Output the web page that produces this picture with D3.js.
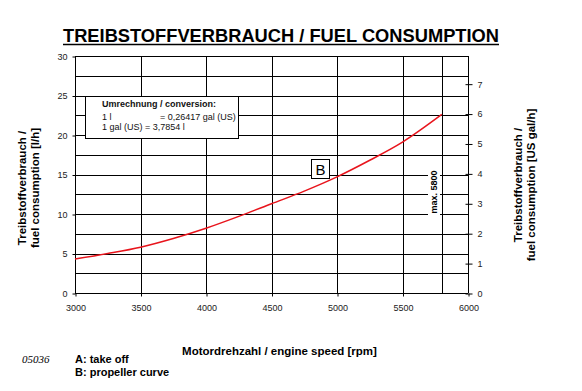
<!DOCTYPE html>
<html>
<head>
<meta charset="utf-8">
<script src="https://cdn.jsdelivr.net/npm/d3@7/dist/d3.min.js"></script>
<style>
  body { margin: 0; background: #fff; }
  svg { font-family: "Liberation Sans", Arial, sans-serif; }
</style>
</head>
<body>
<script>
const rpm = [3000, 3250, 3500, 3750, 4000, 4250, 4500, 4750, 5000, 5250, 5500, 5800];
const fuel = [4.3, 5.0, 5.8, 6.9, 8.2, 9.7, 11.3, 12.9, 14.7, 16.8, 19.1, 22.6];

const xTicks = [3000, 3500, 4000, 4500, 5000, 5500, 6000];
const yTicks = [0, 5, 10, 15, 20, 25, 30];
const yGrid = d3.range(0, 30.01, 2.5);
const galTicks = [0, 1, 2, 3, 4, 5, 6, 7];
const maxRpm = 5800;
const litrePerGal = 3.7854;

const width = 582, height = 391;

const svg = d3.select("body")
  .append("svg")
  .attr("width", width)
  .attr("height", height);

// scales
const x = d3.scaleLinear().domain([3000, 6000]).range([75, 468]);
const y = d3.scaleLinear().domain([0, 30]).range([293, 56]);
const y2 = d3.scaleLinear().domain([0, 30 / litrePerGal]).range([293, 56]);

// title
svg.append("text")
  .attr("x", 63).attr("y", 42)
  .attr("textLength", 436).attr("lengthAdjust", "spacingAndGlyphs")
  .attr("font-size", 19).attr("font-weight", "bold")
  .text("TREIBSTOFFVERBRAUCH / FUEL CONSUMPTION");
svg.append("line")
  .attr("x1", 63).attr("x2", 499).attr("y1", 44.5).attr("y2", 44.5)
  .attr("stroke", "#000").attr("stroke-width", 1.5);

// grid
svg.append("g")
  .selectAll("line")
  .data(yGrid)
  .enter()
  .append("line")
  .attr("x1", x(3000)).attr("x2", x(6000))
  .attr("y1", d => Math.round(y(d)) + 0.5).attr("y2", d => Math.round(y(d)) + 0.5)
  .attr("stroke", "#000");

svg.append("g")
  .selectAll("line")
  .data(xTicks.concat([maxRpm]))
  .enter()
  .append("line")
  .attr("x1", d => Math.round(x(d)) + 0.5).attr("x2", d => Math.round(x(d)) + 0.5)
  .attr("y1", y(30)).attr("y2", y(0))
  .attr("stroke", "#000");

// left axis
const yAxis = svg.append("g")
  .attr("transform", `translate(${Math.round(x(3000)) + 0.5},0.5)`)
  .call(d3.axisLeft(y).tickValues(yTicks).tickSize(3).tickPadding(5));

// bottom axis
const xAxis = svg.append("g")
  .attr("transform", `translate(0.5,${Math.round(y(0)) + 0.5})`)
  .call(d3.axisBottom(x).tickValues(xTicks).tickSize(3).tickPadding(8).tickFormat(d3.format("d")));

// right axis (US gal/h), ticks crossing the frame
const y2Axis = svg.append("g")
  .attr("transform", `translate(${Math.round(x(6000)) + 0.5},0.5)`)
  .call(d3.axisRight(y2).tickValues(galTicks).tickSize(4).tickPadding(5));
y2Axis.selectAll(".tick line").attr("x1", -3);

[yAxis, xAxis, y2Axis].forEach(g => {
  g.select(".domain").remove();
  g.selectAll(".tick line").attr("stroke", "#000");
  g.selectAll(".tick text")
    .attr("font-size", 9)
    .attr("fill", "#222")
    .attr("font-family", "Liberation Sans, Arial, sans-serif");
});

// curve B
const line = d3.line()
  .x((d, i) => x(rpm[i]))
  .y(d => y(d))
  .curve(d3.curveMonotoneX);

svg.append("path")
  .datum(fuel)
  .attr("d", line)
  .attr("fill", "none")
  .attr("stroke", "#e8141c")
  .attr("stroke-width", 1.5);

// conversion box
svg.append("rect")
  .attr("x", 85.5).attr("y", 96.5).attr("width", 153).attr("height", 42)
  .attr("fill", "#fff").attr("stroke", "#000");
const conv = svg.append("g").attr("font-size", 9).attr("fill", "#111");
conv.append("text").attr("x", 102).attr("y", 107).attr("font-weight", "bold").text("Umrechnung / conversion:");
conv.append("text").attr("x", 102).attr("y", 120).text("1 l");
conv.append("text").attr("x", 160).attr("y", 120).text("=  0,26417 gal (US)");
conv.append("text").attr("x", 102).attr("y", 130).text("1 gal (US) =  3,7854 l");

// label B
svg.append("rect")
  .attr("x", 311.5).attr("y", 159.5).attr("width", 18).attr("height", 19)
  .attr("fill", "#fff").attr("stroke", "#000");
svg.append("text")
  .attr("x", 320.5).attr("y", 175).attr("text-anchor", "middle")
  .attr("font-size", 15).text("B");

// max. 5800 label
svg.append("rect")
  .attr("x", 428).attr("y", 165).attr("width", 12).attr("height", 54)
  .attr("fill", "#fff");
svg.append("text")
  .attr("transform", `translate(${x(maxRpm) - 4.5},192) rotate(-90)`)
  .attr("text-anchor", "middle")
  .attr("font-size", 9).attr("font-weight", "bold")
  .text("max. 5800");

// axis titles
function vTitle(cx, cy, lines) {
  const t = svg.append("text")
    .attr("transform", `translate(${cx},${cy}) rotate(-90)`)
    .attr("text-anchor", "middle")
    .attr("font-size", 11.5).attr("font-weight", "bold");
  lines.forEach((s, i) => {
    t.append("tspan").attr("x", 0).attr("y", i * 13).text(s);
  });
}
vTitle(26, 188, ["Treibstoffverbrauch /", "fuel consumption [l/h]"]);
vTitle(522, 185, ["Treibstoffverbrauch /", "fuel consumption [US gal/h]"]);

svg.append("text")
  .attr("x", 279.5).attr("y", 355).attr("text-anchor", "middle")
  .attr("font-size", 11.5).attr("font-weight", "bold")
  .text("Motordrehzahl / engine speed [rpm]");

// footnote
svg.append("text")
  .attr("x", 22).attr("y", 363)
  .attr("font-family", "Liberation Serif, Times New Roman, serif")
  .attr("font-style", "italic").attr("font-size", 11)
  .text("05036");
svg.append("text").attr("x", 75).attr("y", 363)
  .attr("font-size", 11).attr("font-weight", "bold").text("A: take off");
svg.append("text").attr("x", 75).attr("y", 375.5)
  .attr("font-size", 11).attr("font-weight", "bold").text("B: propeller curve");
</script>
</body>
</html>
